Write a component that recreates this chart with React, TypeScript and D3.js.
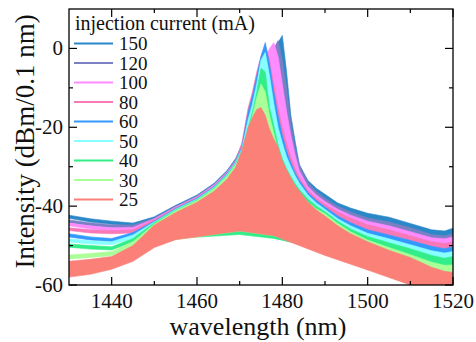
import React from 'react';
import * as d3 from 'd3';

// injection currents (mA), drawn in this order; 25 mA ends up on top
const currents = [150, 120, 100, 80, 60, 50, 40, 30, 25];
const colors = ['#2b88c8', '#7b7fc4', '#ff8cff', '#f878b8', '#3399ff', '#88ffff', '#33ee88', '#aaff99', '#fa8078'];

// wavelength grid for the upper envelope of each spectrum (nm)
const wlUp = [1430, 1435, 1440, 1445, 1450, 1455, 1460, 1464, 1467, 1469, 1470.5, 1472, 1473, 1474, 1475, 1476, 1477, 1478, 1479, 1480, 1481, 1482, 1483, 1484, 1486, 1488, 1490, 1493, 1496, 1500, 1505, 1510, 1515, 1518, 1520];

const up150 = [-42.3, -43.2, -43.8, -44.3, -42.7, -39.8, -37.2, -34.2, -31, -28, -24.5, -18, -14, -10, -7, -4, -2, -1, 1.5, 3.3, -6, -17, -23.5, -29.5, -33.5, -35.5, -37, -39.2, -40.5, -41.8, -42.8, -44.4, -46, -46.3, -45.6];
const up120 = [-43.5, -44.2, -44.7, -44.8, -43, -40, -37.4, -34.4, -31.2, -28.3, -25, -17, -13, -9, -6, -3.5, -1.5, 0, 2, -3, -10, -19, -25, -29.5, -34, -36.3, -38, -40, -41.5, -43, -44, -45.5, -47.2, -47.5, -47];
const up100 = [-44.3, -45, -45.5, -45.4, -43.2, -40.2, -37.6, -34.6, -31.4, -28.5, -25, -16, -12, -8, -5, -2.5, 0, 1.5, -2, -9, -16, -22, -27, -31, -35, -37.2, -38.8, -40.8, -42.3, -43.8, -45, -46.5, -48, -48.3, -47.8];
const up80 = [-45.5, -46, -46.2, -46, -43.4, -40.4, -37.8, -34.8, -31.6, -28.6, -24, -15, -11, -6, -2, 1, -3, -9, -15, -20, -24, -27.5, -30.5, -32.8, -36, -38, -39.5, -41.5, -43, -44.7, -46, -47.5, -49, -49.5, -49];
const up60 = [-47, -47.8, -48.2, -46.7, -43.8, -40.6, -38, -35, -31.8, -28.8, -25, -16, -12, -7, -2, 1.5, -4, -11, -17, -22, -26, -29, -31.5, -33.5, -36.6, -38.6, -40.2, -42.5, -44.2, -46, -47.3, -48.7, -50.2, -50.8, -50.3];
const up50 = [-48.3, -48.8, -49, -47.3, -44, -40.8, -38.2, -35.2, -32, -29, -25.5, -18, -14, -9, -3, -1, -7, -14, -20, -24, -27.5, -30, -32.3, -34.2, -37.2, -39.2, -40.8, -43.2, -45, -46.9, -48.3, -49.8, -51.3, -51.9, -51.5];
const up40 = [-49.6, -50, -50.3, -48.2, -44.2, -41, -38.4, -35.4, -32.2, -29.3, -26, -20, -16, -11, -5, -6, -15, -19.5, -24.5, -28, -30.5, -32.5, -34.3, -35.8, -38.2, -40, -41.4, -43.8, -45.8, -47.7, -49.3, -50.8, -52.5, -53.2, -52.8];
const up30 = [-52.4, -52, -51.5, -49, -44.5, -41.2, -38.6, -35.6, -32.5, -29.6, -26.5, -21, -17, -12.5, -9, -11, -17, -21.5, -26, -29, -31.5, -33.5, -35.2, -36.6, -39, -40.7, -41.9, -44.4, -46.5, -48.6, -50.5, -52.3, -54.2, -55, -54.9];
const up25 = [-54, -53.5, -52.8, -50, -44.8, -41.6, -39, -36.2, -33.2, -30.2, -26, -20, -17.5, -15.5, -15, -17, -20.5, -23, -25, -28.5, -30.8, -32.8, -34.8, -36.2, -39, -41, -42.5, -45, -47, -49, -51.2, -53, -55.5, -56.5, -56.8];

// wavelength grid for the lower envelope (bottom of the mode comb)
const wlLo = [1430, 1435, 1440, 1445, 1450, 1455, 1470, 1478, 1490, 1500, 1510, 1520];

const lo150 = [-43.1, -44, -44.6, -45.1, -46.5, -47.5, -46, -47.3, -51, -54, -57, -57.5];
const lo120 = [-44.2, -45, -45.5, -45.6, -46.5, -47.5, -46, -47.3, -51, -54, -57, -57.5];
const lo100 = [-45, -45.8, -46.3, -46.2, -46.5, -47.5, -46, -47.3, -51, -54, -57, -57.5];
const lo80 = [-46.2, -46.8, -47, -46.8, -47, -47.5, -46, -47.3, -51, -54, -57, -57.5];
const lo60 = [-47.8, -48.6, -49, -47.6, -47.5, -47.8, -46.8, -48, -51, -54, -57, -57.5];
const lo50 = [-49.1, -49.6, -49.8, -48.2, -48, -48, -46.5, -47.8, -51, -54, -57, -57.5];
const lo40 = [-50.4, -50.9, -51.1, -49.1, -48.5, -48.2, -47.2, -48.2, -51, -54, -57, -57.5];
const lo30 = [-53.4, -53, -52.6, -50.2, -49, -48.5, -46.3, -47.5, -51, -54, -57, -57.5];
const lo25 = [-58, -57.3, -56, -54, -50.5, -48.5, -46.3, -47.5, -52.5, -56.2, -60, -60];

const uppers = [up150, up120, up100, up80, up60, up50, up40, up30, up25];
const lowers = [lo150, lo120, lo100, lo80, lo60, lo50, lo40, lo30, lo25];

const xMajor = [1440, 1460, 1480, 1500, 1520];
const xMinor = [1450, 1470, 1490, 1510];
const yMajor = [-60, -40, -20, 0];
const yMinor = [-50, -30, -10];

const W = 476;
const H = 342;
const m = { left: 69, right: 453, top: 9, bottom: 285 };
const font = 'Liberation Serif, Tinos, Times New Roman, Times, serif';

export default function App() {
  const x = d3.scaleLinear().domain([1430, 1520]).range([m.left, m.right]);
  const y = d3.scaleLinear().domain([-60, 10]).range([m.bottom, m.top]);

  const line = d3.line<[number, number]>().x(d => x(d[0])).y(d => y(d[1]));

  const bands = currents.map((c, i) => {
    const top = wlUp.map((w, k) => [w, uppers[i][k]] as [number, number]);
    const bot = wlLo.map((w, k) => [w, lowers[i][k]] as [number, number]).reverse();
    return { c, color: colors[i], d: line([...top, ...bot]) + 'Z' };
  });

  const legendTop = 43.5;
  const legendStep = 19.5;
  const txt = { fontFamily: font, fill: '#111' };

  return (
    <svg width={W} height={H} style={{ position: 'absolute', left: 0, top: 0, background: '#fff' }}>
      <defs>
        <clipPath id="plot">
          <rect x={m.left} y={m.top} width={m.right - m.left} height={m.bottom - m.top} />
        </clipPath>
      </defs>

      <g clipPath="url(#plot)">
        {bands.map(b => (
          <path key={b.c} d={b.d} fill={b.color} stroke={b.color} strokeWidth={0.6} />
        ))}
      </g>

      {/* legend */}
      <text x={75} y={30} style={{ ...txt, fontSize: 20 }}>injection current (mA)</text>
      {currents.map((c, i) => {
        const yy = legendTop + i * legendStep;
        return (
          <g key={c}>
            <line x1={74} x2={113} y1={yy} y2={yy} stroke={colors[i]} strokeWidth={1.8} />
            <text x={119} y={yy + 6.5} style={{ ...txt, fontSize: 19 }}>{c}</text>
          </g>
        );
      })}

      {/* frame and ticks */}
      <rect x={m.left} y={m.top} width={m.right - m.left} height={m.bottom - m.top} fill="none" stroke="#000" strokeWidth={1.3} />
      {xMajor.concat(xMinor).map(v => {
        const len = xMajor.includes(v) ? 8 : 4;
        return (
          <g key={'x' + v} stroke="#000" strokeWidth={1.2}>
            <line x1={x(v)} x2={x(v)} y1={m.bottom} y2={m.bottom - len} />
            <line x1={x(v)} x2={x(v)} y1={m.top} y2={m.top + len} />
          </g>
        );
      })}
      {yMajor.concat(yMinor).map(v => {
        const len = yMajor.includes(v) ? 8 : 4;
        return (
          <g key={'y' + v} stroke="#000" strokeWidth={1.2}>
            <line x1={m.left} x2={m.left + len} y1={y(v)} y2={y(v)} />
            <line x1={m.right} x2={m.right - len} y1={y(v)} y2={y(v)} />
          </g>
        );
      })}
      {xMajor.map(v => (
        <text key={'xl' + v} x={x(v)} y={308} textAnchor="middle" style={{ ...txt, fontSize: 21 }}>{v}</text>
      ))}
      {yMajor.map(v => (
        <text key={'yl' + v} x={63} y={y(v) + 7} textAnchor="end" style={{ ...txt, fontSize: 21 }}>{v}</text>
      ))}

      {/* axis titles */}
      <text x={258} y={335} textAnchor="middle" style={{ ...txt, fontSize: 26 }}>wavelength (nm)</text>
      <text transform="translate(34,141.5) rotate(-90)" textAnchor="middle" style={{ ...txt, fontSize: 27 }}>Intensity (dBm/0.1 nm)</text>
    </svg>
  );
}
